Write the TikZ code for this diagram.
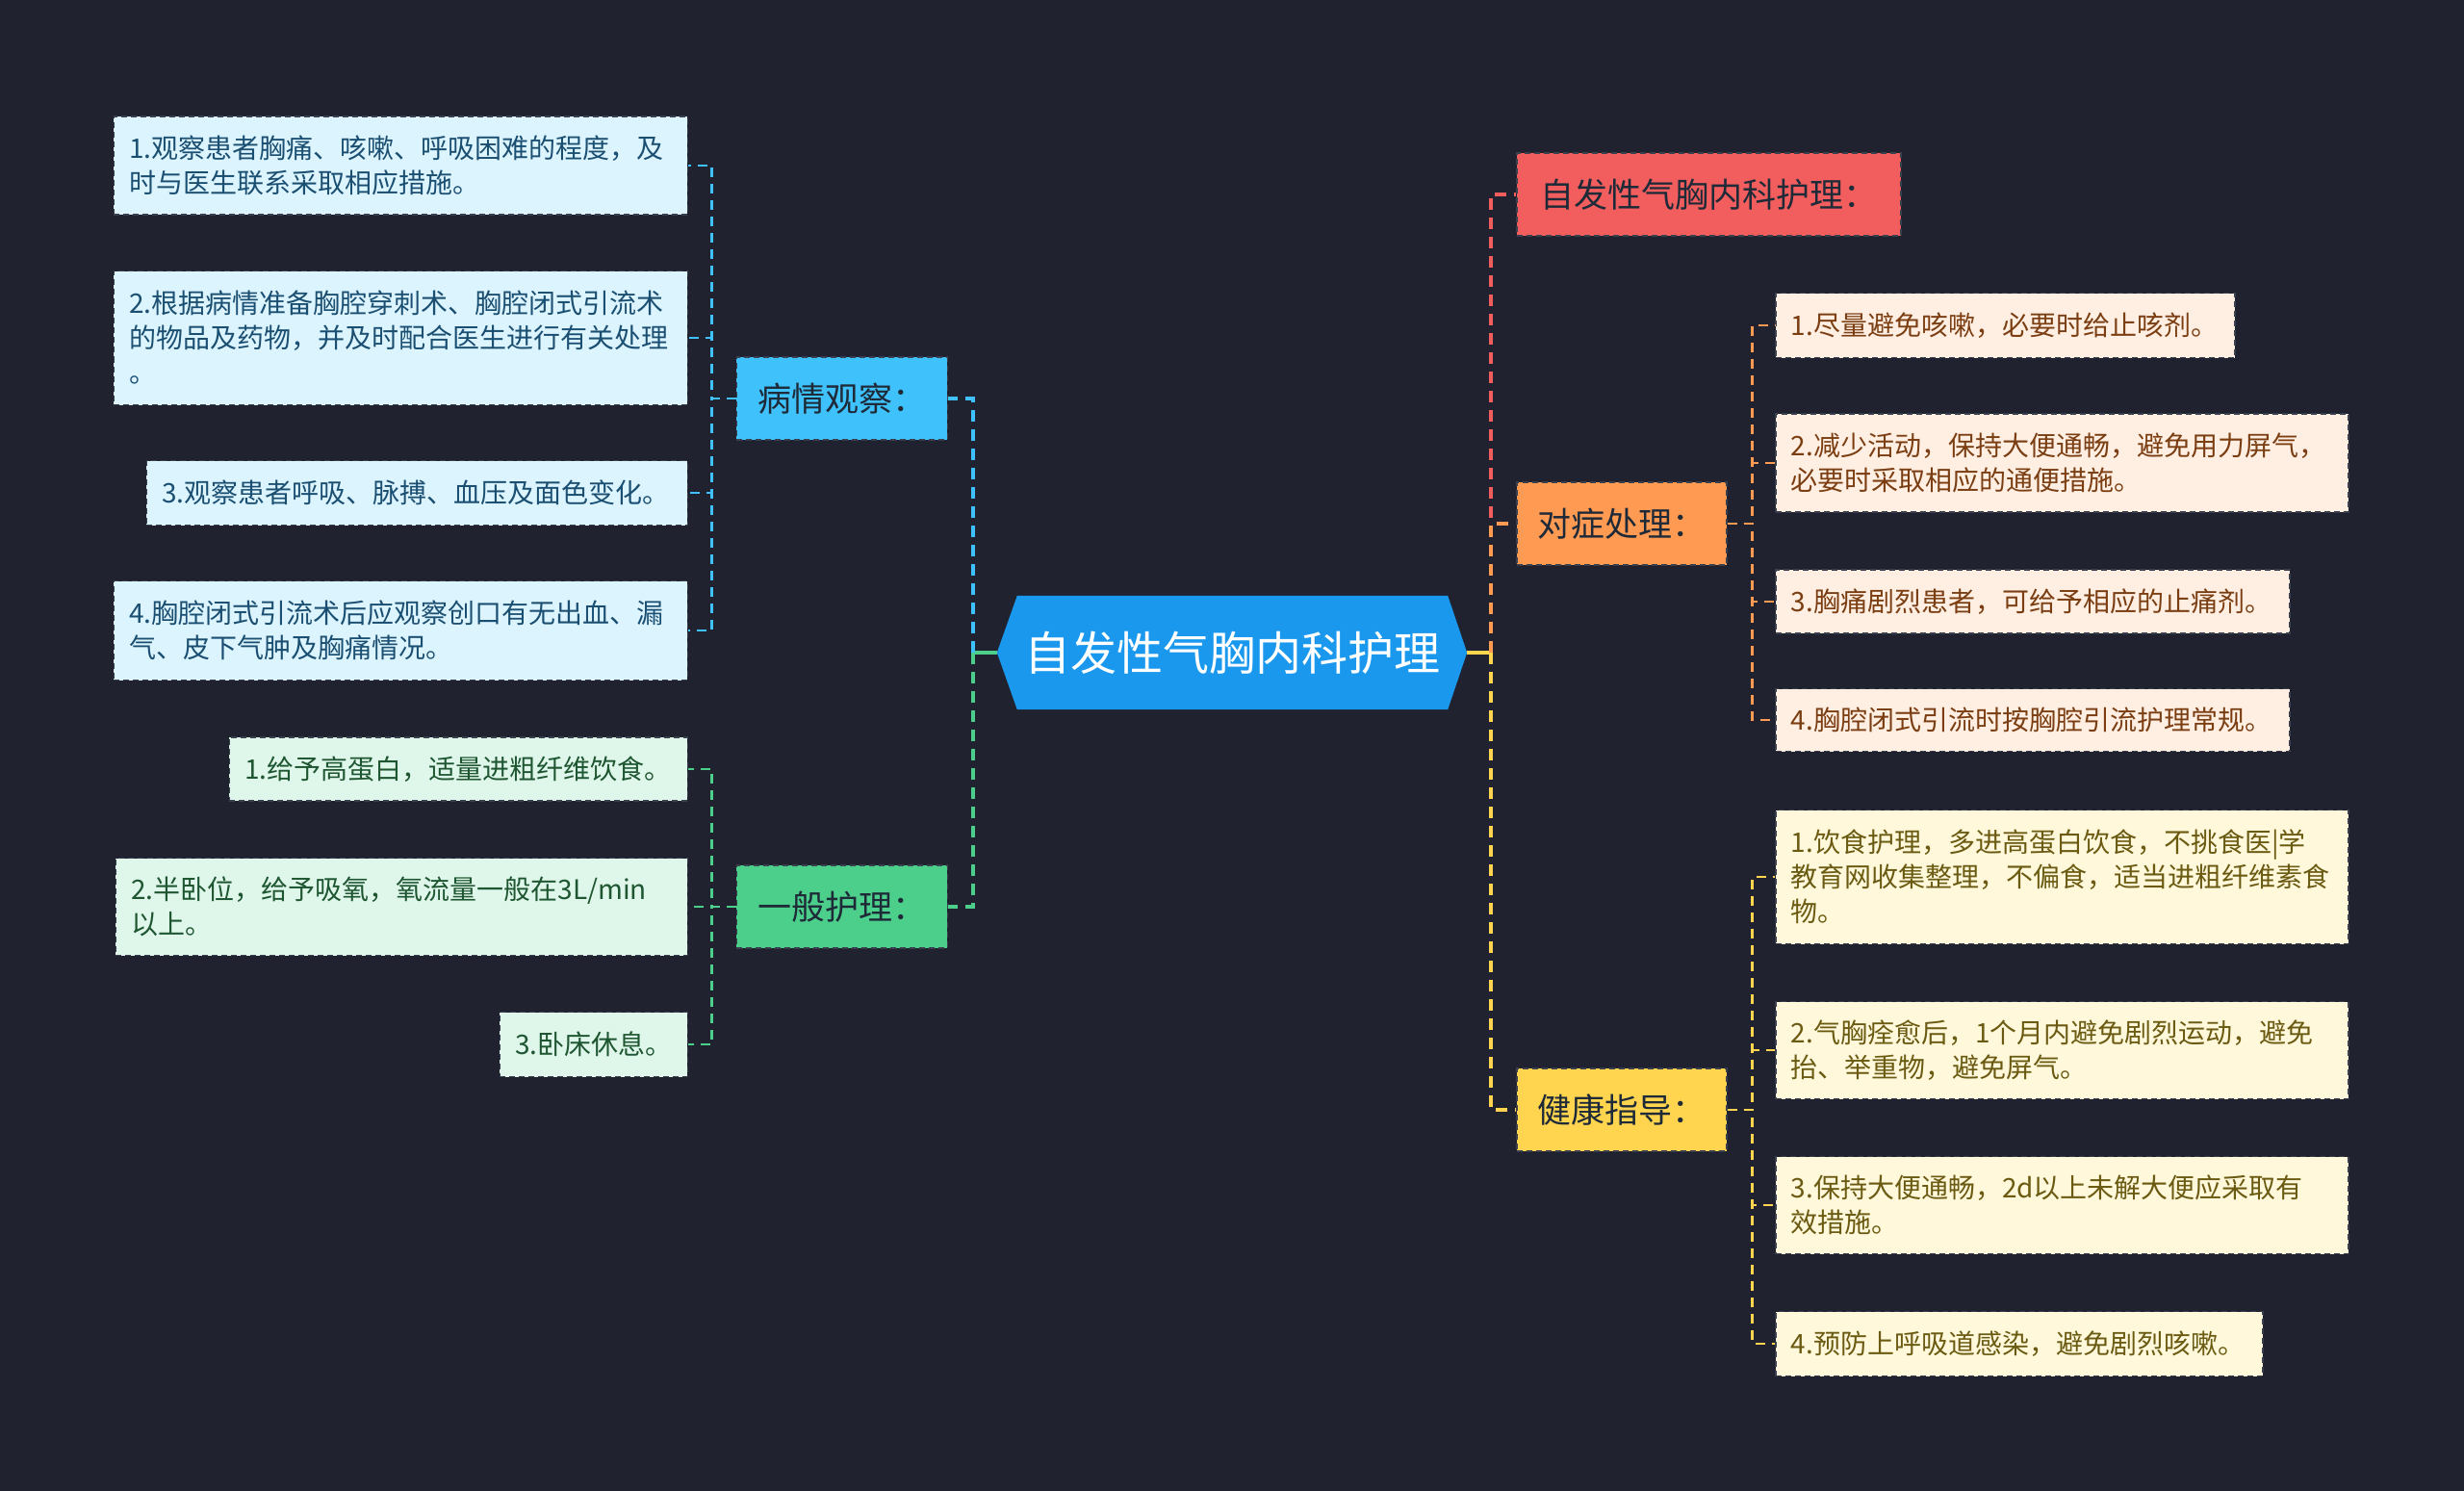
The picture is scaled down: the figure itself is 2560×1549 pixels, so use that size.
\documentclass[tikz,border=0pt]{standalone}
\usepackage{fontspec}
\setmainfont{Noto Sans CJK SC}
\usetikzlibrary{backgrounds}
\definecolor{bg}{HTML}{20232F}
\definecolor{boxedge}{HTML}{3A3F4E}
\definecolor{rootblue}{HTML}{1A98EE}
\definecolor{midtext}{HTML}{1E2A38}
\definecolor{bcol}{HTML}{3FC1FB}
\definecolor{bleaf}{HTML}{DCF4FE}
\definecolor{btext}{HTML}{1B4F72}
\definecolor{gcol}{HTML}{4DCF8C}
\definecolor{gleaf}{HTML}{DFF6EA}
\definecolor{gtext}{HTML}{1E5631}
\definecolor{rcol}{HTML}{F25E5E}
\definecolor{ocol}{HTML}{FF9A52}
\definecolor{oleaf}{HTML}{FFEEE2}
\definecolor{otext}{HTML}{7A3E12}
\definecolor{ycol}{HTML}{FFD54F}
\definecolor{yleaf}{HTML}{FFF8DB}
\definecolor{ytext}{HTML}{6B5B12}
\tikzset{
  leafbox/.style={rectangle, draw=boxedge, dash pattern=on 6pt off 4pt, line width=1.5pt,
    inner xsep=16pt, inner ysep=6pt, align=left, font=\fontsize{28pt}{36pt}\selectfont},
  midbox/.style={rectangle, draw=boxedge, dash pattern=on 6pt off 4pt, line width=1.5pt,
    inner xsep=20pt, minimum height=86pt, font=\fontsize{35pt}{42pt}\selectfont, text=midtext},
  trunk/.style={line width=3.5pt, dash pattern=on 12pt off 8pt},
  twig/.style={line width=2.5pt, dash pattern=on 10pt off 7pt},
  stub/.style={line width=3.5pt},
}
\begin{document}
\begin{tikzpicture}[x=1pt,y=-1pt]
\useasboundingbox (0,0) rectangle (2560,1549);
\begin{scope}[on background layer]
  \fill[bg] (0,0) rectangle (2560,1549);
\end{scope}

% root
\node[minimum width=488pt, minimum height=118pt, inner sep=0pt, text=white,
  font=\fontsize{48pt}{56pt}\selectfont] (root) at (1280,678) {自发性气胸内科护理};
\begin{scope}[on background layer]
  \fill[rootblue] (root.west) -- ([xshift=21pt]root.north west) -- ([xshift=-20pt]root.north east)
    -- (root.east) -- ([xshift=-20pt]root.south east) -- ([xshift=21pt]root.south west) -- cycle;
\end{scope}
\coordinate (tl) at ([xshift=-25pt]root.west);
\coordinate (tr) at ([xshift=25pt]root.east);

% mid nodes
\node[midbox, fill=bcol, minimum width=219pt, anchor=east] (bq) at (985,414) {病情观察：};
\node[midbox, fill=gcol, minimum width=219pt, anchor=east] (gq) at (985,942) {一般护理：};
\node[midbox, fill=rcol, minimum width=399pt, anchor=west] (rq) at (1575,202) {自发性气胸内科护理：};
\node[midbox, fill=ocol, minimum width=218pt, anchor=west] (oq) at (1575,544) {对症处理：};
\node[midbox, fill=ycol, minimum width=218pt, anchor=west] (yq) at (1575,1153) {健康指导：};

% blue leaves
\node[leafbox, fill=bleaf, text=btext, text width=564pt, minimum height=102pt, anchor=east] (L1) at (715,172)
  {1.观察患者胸痛、咳嗽、呼吸困难的程度，及\\时与医生联系采取相应措施。};
\node[leafbox, fill=bleaf, text=btext, text width=564pt, minimum height=139pt, anchor=east] (L2) at (715,351)
  {2.根据病情准备胸腔穿刺术、胸腔闭式引流术\\的物品及药物，并及时配合医生进行有关处理\\。};
\node[leafbox, fill=bleaf, text=btext, text width=530pt, minimum height=67pt, anchor=east] (L3) at (715,512)
  {3.观察患者呼吸、脉搏、血压及面色变化。};
\node[leafbox, fill=bleaf, text=btext, text width=564pt, minimum height=103pt, anchor=east] (L4) at (715,655)
  {4.胸腔闭式引流术后应观察创口有无出血、漏\\气、皮下气肿及胸痛情况。};

% green leaves
\node[leafbox, fill=gleaf, text=gtext, text width=444pt, minimum height=66pt, anchor=east] (G1) at (715,799)
  {1.给予高蛋白，适量进粗纤维饮食。};
\node[leafbox, fill=gleaf, text=gtext, text width=562pt, minimum height=101pt, anchor=east] (G2) at (715,942)
  {2.半卧位，给予吸氧，氧流量一般在3L/min\\以上。};
\node[leafbox, fill=gleaf, text=gtext, text width=163pt, minimum height=67pt, anchor=east] (G3) at (715,1085)
  {3.卧床休息。};

% orange leaves
\node[leafbox, fill=oleaf, text=otext, text width=445pt, minimum height=67pt, anchor=west] (O1) at (1844,338)
  {1.尽量避免咳嗽，必要时给止咳剂。};
\node[leafbox, fill=oleaf, text=otext, text width=563pt, minimum height=102pt, anchor=west] (O2) at (1844,481)
  {2.减少活动，保持大便通畅，避免用力屏气，\\必要时采取相应的通便措施。};
\node[leafbox, fill=oleaf, text=otext, text width=502pt, minimum height=66pt, anchor=west] (O3) at (1844,625)
  {3.胸痛剧烈患者，可给予相应的止痛剂。};
\node[leafbox, fill=oleaf, text=otext, text width=502pt, minimum height=65pt, anchor=west] (O4) at (1844,748)
  {4.胸腔闭式引流时按胸腔引流护理常规。};

% yellow leaves
\node[leafbox, fill=yleaf, text=ytext, text width=563pt, minimum height=139pt, anchor=west] (Y1) at (1844,911)
  {1.饮食护理，多进高蛋白饮食，不挑食医|学\\教育网收集整理，不偏食，适当进粗纤维素食\\物。};
\node[leafbox, fill=yleaf, text=ytext, text width=563pt, minimum height=101pt, anchor=west] (Y2) at (1844,1091)
  {2.气胸痊愈后，1个月内避免剧烈运动，避免\\抬、举重物，避免屏气。};
\node[leafbox, fill=yleaf, text=ytext, text width=563pt, minimum height=101pt, anchor=west] (Y3) at (1844,1252)
  {3.保持大便通畅，2d以上未解大便应采取有\\效措施。};
\node[leafbox, fill=yleaf, text=ytext, text width=474pt, minimum height=67pt, anchor=west] (Y4) at (1844,1396)
  {4.预防上呼吸道感染，避免剧烈咳嗽。};

% root stubs
\draw[stub, gcol] (root.west) -- (tl);
\draw[stub, ycol] (root.east) -- (tr);

% trunks
\draw[trunk, bcol] (tl) |- (bq.east);
\draw[trunk, gcol] (tl) |- (gq.east);
\draw[trunk, rcol] (tr) |- (rq.west);
\draw[trunk, ocol] (tr) |- (oq.west);
\draw[trunk, ycol] (tr) |- (yq.west);

% twigs
\foreach \n in {L1,L2,L3,L4} \draw[twig, bcol] (bq.west) -- ++(-25,0) |- (\n.east);
\foreach \n in {G1,G2,G3} \draw[twig, gcol] (gq.west) -- ++(-25,0) |- (\n.east);
\foreach \n in {O1,O2,O3,O4} \draw[twig, ocol] (oq.east) -- ++(26,0) |- (\n.west);
\foreach \n in {Y1,Y2,Y3,Y4} \draw[twig, ycol] (yq.east) -- ++(26,0) |- (\n.west);
\end{tikzpicture}
\end{document}
